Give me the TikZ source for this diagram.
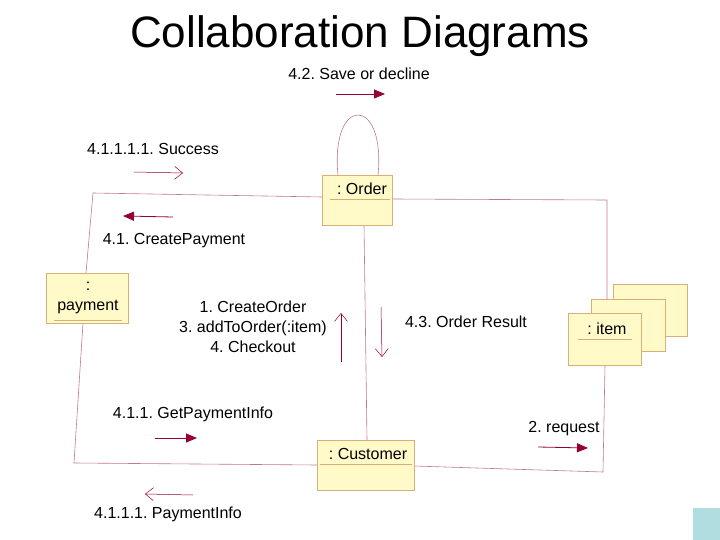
\documentclass[tikz,border=0pt]{standalone}
\usepackage{fontspec}
\setmainfont{Liberation Sans}
\usetikzlibrary{arrows.meta}
\definecolor{linkc}{RGB}{190,120,145}
\definecolor{msgc}{RGB}{150,0,50}
\definecolor{boxfill}{RGB}{255,250,200}
\definecolor{boxline}{RGB}{215,175,120}
\definecolor{tealc}{RGB}{176,221,224}
\frenchspacing
\begin{document}
\begin{tikzpicture}[
                x=1pt,y=-1pt,
                obj/.style={
                  draw=boxline,
                  fill=boxfill,
                  inner sep=0pt,
                },
                link/.style={linkc, line width=0.6pt},
                label/.style={font=\fontsize{16}{20}\selectfont, align=center},
                filled/.style={msgc, line width=0.8pt, -{Triangle[length=11pt,width=9pt]}},
                open/.style={msgc, line width=0.5pt, -{Straight Barb[length=8pt,width=13pt]}},
              ]
              \useasboundingbox (0,0) rectangle (720,540);
              \fill[tealc] (693,508) rectangle (720,540);
              \node[font=\fontsize{44}{50}\selectfont] (title) at (360,36) {Collaboration Diagrams};
              % links
              \draw[link] (338,175) .. controls (330,95) and (386,95) .. (378,175);
              \draw[link] (322,197) -- (93,193) -- (86,273);
              \draw[link] (83,323) -- (74,463) -- (317,465);
              \draw[link] (392,199) -- (607,200) -- (607,313);
              \draw[link] (605,365) -- (603,472) -- (414,466);
              \draw[link] (364,225) -- (367,440);
              % objects
              \filldraw[obj] (613,284) rectangle (687,336);
              \filldraw[obj] (591,299) rectangle (665,351);
              \node[obj, minimum width=73pt, minimum height=52pt] (item) at (604.5,339) {};
              \node[obj, minimum width=70pt, minimum height=50pt] (order) at (357,200) {};
              \node[obj, minimum width=82pt, minimum height=50pt] (payment) at (87,298) {};
              \node[obj, minimum width=97pt, minimum height=50pt] (customer) at (365.5,465) {};
              \node[label] (ordert) at (362,189) {: Order};
              \draw[boxline] (330,199) -- (390,199);
              \node[label] (paymentt) at (88,298) {:\\payment};
              \draw[boxline] (54,320) -- (122,320);
              \node[label] (customert) at (368,454) {: Customer};
              \draw[boxline] (320,464) -- (412,464);
              \node[label] (itemt) at (607,329) {: item};
              \draw[boxline] (578,339) -- (632,339);
              % messages
              \node[label] (m42) at (359,74) {4.2. Save or decline};
              \draw[filled] (336,94) -- (385,94);
              \node[label] (m41111) at (153,149) {4.1.1.1.1. Success};
              \draw[open] (134,172) -- (183,173);
              \node[label] (m41) at (174,241) {4.1. CreatePayment};
              \draw[filled] (173,217) -- (123,216);
              \node[label] (m1) at (253,327) {1. CreateOrder\\3. addToOrder(:item)\\4. Checkout};
              \draw[open] (341,362) -- (341,313);
              \node[label] (m43) at (466,322) {4.3. Order Result};
              \draw[open] (381,307) -- (382,357);
              \node[label] (m411) at (193,414) {4.1.1. GetPaymentInfo};
              \draw[filled] (155,438) -- (197,438);
              \node[label] (m2) at (564,429) {2. request};
              \draw[filled] (538,447) -- (588,448);
              \node[label] (m4111) at (168,514) {4.1.1.1. PaymentInfo};
              \draw[open] (193,495) -- (145,494);
              \end{tikzpicture}
\end{document}
